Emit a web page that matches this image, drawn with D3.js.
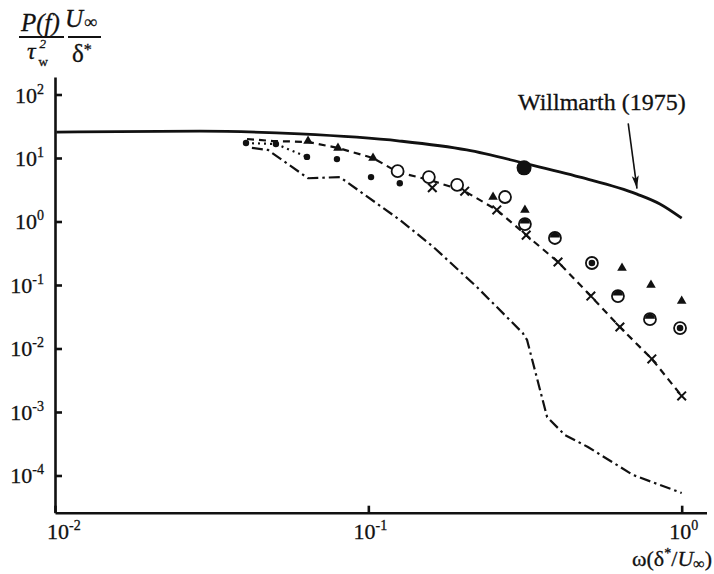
<!DOCTYPE html>
<html>
<head>
<meta charset="utf-8">
<script src="https://cdn.jsdelivr.net/npm/d3@7"></script>
<style>
  body { margin: 0; background: #fff; }
  text { font-family: "Liberation Serif", "Times New Roman", serif; fill: #111; stroke: #111; stroke-width: 0.3; }
</style>
</head>
<body>
<script>
const width = 714;
const height = 574;

// Willmarth (1975) solid curve
const willX = [0.0101, 0.029, 0.0605, 0.126, 0.206, 0.314, 0.474, 0.72, 0.852, 1.0];
const willY = [25.6, 26.5, 23.9, 18.5, 13.4, 8.3, 5.0, 2.7, 1.89, 1.13];

// single large dot sitting on the curve
const bigDotX = [0.314];
const bigDotY = [7.0];

// dashed curve with crosses
const dashX = [0.041, 0.0496, 0.0642, 0.080, 0.1035, 0.124, 0.157, 0.203, 0.257, 0.319, 0.403, 0.513, 0.635, 0.803, 1.0];
const dashY = [19.9, 18.5, 17.9, 14.4, 10.0, 6.0, 4.5, 3.0, 1.52, 0.61, 0.23, 0.067, 0.0218, 0.00684, 0.00179];
const crossX = [0.16, 0.203, 0.257, 0.319, 0.403, 0.513, 0.635, 0.803, 1.0];
const crossY = [3.4, 3.0, 1.52, 0.61, 0.23, 0.067, 0.0218, 0.00684, 0.00179];

// dotted curve + small filled dots
const dotLineX = [0.0407, 0.0507, 0.0637];
const dotLineY = [17.2, 16.6, 10.4];
const dotX = [0.0407, 0.0507, 0.0637, 0.0794, 0.102, 0.126];
const dotY = [17.2, 16.6, 10.4, 9.6, 5.0, 4.0];

// filled triangles
const triX = [0.0642, 0.080, 0.1035, 0.25, 0.316, 0.645, 0.798, 1.0];
const triY = [18.5, 14.4, 10.0, 2.43, 1.52, 0.185, 0.1, 0.056];

// circles (open / half filled / bullseye)
const openCircX = [0.124, 0.156, 0.192, 0.273];
const openCircY = [6.2, 5.0, 3.76, 2.43];
const halfCircX = [0.316, 0.394, 0.626, 0.792];
const halfCircY = [0.91, 0.55, 0.067, 0.029];
const bullCircX = [0.517, 0.988];
const bullCircY = [0.222, 0.021];

// dash-dot curve
const ddX = [0.0425, 0.0478, 0.0642, 0.0812, 0.126, 0.161, 0.222, 0.311, 0.321, 0.372, 0.424, 0.502, 0.699, 1.0];
const ddY = [14.4, 13.4, 4.8, 5.0, 1.06, 0.40, 0.093, 0.0175, 0.0136, 0.00083, 0.000434, 0.000281, 0.000102, 0.000053];

// ticks
const xTicks = [0.01, 0.1, 1];
const xTickExp = ["-2", "-1", "0"];
const yTicks = [1e2, 1e1, 1e0, 1e-1, 1e-2, 1e-3, 1e-4];
const yTickExp = ["2", "1", "0", "-1", "-2", "-3", "-4"];

const x = d3.scaleLog().domain([0.01, 1.2]).range([55, 706.5]);
const y = d3.scaleLog().domain([Math.pow(10, -4.586), Math.pow(10, 2.2756)]).range([512.7, 77]);

const svg = d3.select("body")
  .append("svg")
  .attr("width", width)
  .attr("height", height);

const zip = (xs, ys) => xs.map((v, i) => [v, ys[i]]);
const line = d3.line().x(d => x(d[0])).y(d => y(d[1]));

// axes, ticks point inward
svg.append("g")
  .attr("transform", "translate(55,0)")
  .call(d3.axisLeft(y).tickValues(yTicks).tickSizeInner(-7).tickSizeOuter(0).tickFormat(""))
  .call(g => g.selectAll("path,line").attr("stroke", "#111").attr("stroke-width", 2.6));

svg.append("g")
  .attr("transform", "translate(0,512.7)")
  .call(d3.axisBottom(x).tickValues(xTicks).tickSizeInner(-7).tickSizeOuter(0).tickFormat(""))
  .call(g => g.selectAll("path,line").attr("stroke", "#111").attr("stroke-width", 2.6));

// tick labels with superscripts
yTicks.forEach((v, i) => {
  const t = svg.append("text")
    .attr("x", 44)
    .attr("y", y(v) + 8)
    .attr("text-anchor", "end")
    .style("font-size", "22px");
  t.append("tspan").text("10");
  t.append("tspan").attr("dy", -9).style("font-size", "14px").text(yTickExp[i]);
});

xTicks.forEach((v, i) => {
  const first = i === 0;
  const t = svg.append("text")
    .attr("x", first ? 47 : x(v) + 2)
    .attr("y", 539)
    .attr("text-anchor", first ? "start" : "middle")
    .style("font-size", "22px");
  t.append("tspan").text("10");
  t.append("tspan").attr("dy", -9).style("font-size", "14px").text(xTickExp[i]);
});

// x axis title: ω(δ*/U∞)
const xt = svg.append("text").attr("x", 712).attr("y", 566).attr("text-anchor", "end").style("font-size", "22px");
xt.append("tspan").text("ω(δ");
xt.append("tspan").attr("dy", -8).style("font-size", "14px").text("*");
xt.append("tspan").attr("dy", 8).text("/");
xt.append("tspan").style("font-style", "italic").text("U");
xt.append("tspan").attr("dy", 3).style("font-size", "16px").text("∞");
xt.append("tspan").attr("dy", -3).text(")");

// y axis title: P(f)/τw² · U∞/δ*
svg.append("text").attr("x", 21).attr("y", 31).style("font-size", "25px").style("font-style", "italic").text("P(f)");
svg.append("line").attr("x1", 19).attr("x2", 64).attr("y1", 37).attr("y2", 37).attr("stroke", "#111").attr("stroke-width", 2);
svg.append("text").attr("x", 27).attr("y", 59).style("font-size", "24px").style("font-style", "italic").text("τ");
svg.append("text").attr("x", 38.5).attr("y", 66).style("font-size", "13px").text("w");
svg.append("text").attr("x", 39.5).attr("y", 48).style("font-size", "13px").style("font-style", "italic").text("2");
const uinf = svg.append("text").attr("x", 65).attr("y", 27).style("font-size", "25px").style("font-style", "italic");
uinf.append("tspan").text("U");
uinf.append("tspan").attr("dx", 1).attr("dy", 1).style("font-size", "18px").style("font-style", "normal").text("∞");
svg.append("line").attr("x1", 68).attr("x2", 101).attr("y1", 37).attr("y2", 37).attr("stroke", "#111").attr("stroke-width", 2);
const del = svg.append("text").attr("x", 72).attr("y", 62).style("font-size", "25px");
del.append("tspan").text("δ");
del.append("tspan").attr("dy", -7).style("font-size", "16px").text("*");

// Willmarth curve
svg.append("path")
  .datum(zip(willX, willY))
  .attr("d", line.curve(d3.curveMonotoneX))
  .attr("fill", "none").attr("stroke", "#111").attr("stroke-width", 2.8);
line.curve(d3.curveLinear);

// dashed, dotted and dash-dot curves
svg.append("path").datum(zip(dashX, dashY)).attr("d", line)
  .attr("fill", "none").attr("stroke", "#111").attr("stroke-width", 2.2).attr("stroke-dasharray", "7,5");
svg.append("path").datum(zip(dotLineX, dotLineY)).attr("d", line)
  .attr("fill", "none").attr("stroke", "#111").attr("stroke-width", 2.2).attr("stroke-dasharray", "2,4");
svg.append("path").datum(zip(ddX, ddY)).attr("d", line)
  .attr("fill", "none").attr("stroke", "#111").attr("stroke-width", 2.2).attr("stroke-dasharray", "11,4,2.5,4");

// markers
svg.selectAll(".cross").data(zip(crossX, crossY)).enter().append("path")
  .attr("transform", d => `translate(${x(d[0])},${y(d[1])})`)
  .attr("d", d3.symbol(d3.symbolTimes, 50))
  .attr("fill", "none").attr("stroke", "#111").attr("stroke-width", 2);

svg.selectAll(".dot").data(zip(dotX, dotY)).enter().append("circle")
  .attr("cx", d => x(d[0])).attr("cy", d => y(d[1])).attr("r", 3.2).attr("fill", "#111");

svg.selectAll(".tri").data(zip(triX, triY)).enter().append("path")
  .attr("transform", d => `translate(${x(d[0])},${y(d[1])})`)
  .attr("d", d3.symbol(d3.symbolTriangle, 40))
  .attr("fill", "#111");

svg.selectAll(".ocirc").data(zip(openCircX, openCircY)).enter().append("circle")
  .attr("cx", d => x(d[0])).attr("cy", d => y(d[1])).attr("r", 6)
  .attr("fill", "#fff").attr("stroke", "#111").attr("stroke-width", 1.8);

const half = svg.selectAll(".hcirc").data(zip(halfCircX, halfCircY)).enter().append("g")
  .attr("transform", d => `translate(${x(d[0])},${y(d[1])})`);
half.append("circle").attr("r", 6).attr("fill", "#fff").attr("stroke", "#111").attr("stroke-width", 1.8);
half.append("path").attr("d", "M-5,-0.5 A5,5 0 0 1 5,-0.5 Z").attr("fill", "#111");

const bull = svg.selectAll(".bcirc").data(zip(bullCircX, bullCircY)).enter().append("g")
  .attr("transform", d => `translate(${x(d[0])},${y(d[1])})`);
bull.append("circle").attr("r", 6).attr("fill", "#fff").attr("stroke", "#111").attr("stroke-width", 1.8);
bull.append("circle").attr("r", 3.3).attr("fill", "#111");

svg.selectAll(".big").data(zip(bigDotX, bigDotY)).enter().append("circle")
  .attr("cx", d => x(d[0])).attr("cy", d => y(d[1])).attr("r", 7.5).attr("fill", "#111");

// annotation
svg.append("text").attr("x", 518).attr("y", 110).style("font-size", "24px").text("Willmarth (1975)");
svg.append("line")
  .attr("x1", x(0.675)).attr("y1", y(35)).attr("x2", x(0.72)).attr("y2", y(3.3))
  .attr("stroke", "#111").attr("stroke-width", 1.6);
svg.append("path")
  .attr("transform", `translate(${x(0.72)},${y(3.3)}) rotate(${Math.atan2(y(3.3) - y(35), x(0.72) - x(0.675)) * 180 / Math.PI - 90})`)
  .attr("d", "M0,0 L-3.5,-13 L0,-10 L3.5,-13 Z")
  .attr("fill", "#111");
</script>
</body>
</html>
